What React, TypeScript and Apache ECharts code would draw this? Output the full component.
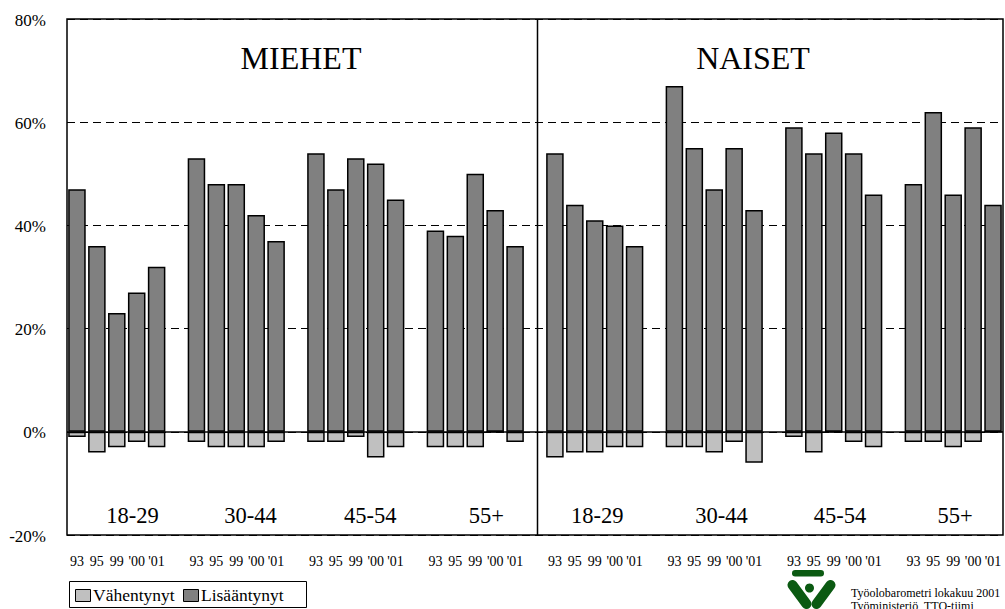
import React, { useEffect, useRef } from "react";
import * as echarts from "echarts";

// ---- data ----
const years = ["93", "95", "99", "'00", "'01"];
const ageGroups = ["18-29", "30-44", "45-54", "55+"];
const genders = ["MIEHET", "NAISET"];
const legendNames = ["Vähentynyt", "Lisääntynyt"];

const miehetLisaantynyt = [47, 36, 23, 27, 32, 53, 48, 48, 42, 37, 54, 47, 53, 52, 45, 39, 38, 50, 43, 36];
const miehetVahentynyt = [-1, -4, -3, -2, -3, -2, -3, -3, -3, -2, -2, -2, -1, -5, -3, -3, -3, -3, 0, -2];
const naisetLisaantynyt = [54, 44, 41, 40, 36, 67, 55, 47, 55, 43, 59, 54, 58, 54, 46, 48, 62, 46, 59, 44];
const naisetVahentynyt = [-5, -4, -4, -3, -3, -3, -3, -4, -2, -6, -1, -4, 0, -2, -3, -2, -2, -3, -2, 0];

const yTickValues = [-20, 0, 20, 40, 60, 80];
const footerLines = ["Työolobarometri lokakuu 2001", "Työministeriö, TTO-tiimi"];

// ---- build categories (groups separated by an empty slot) ----
const categories: string[] = [];
const incData: (number | string)[] = [];
const decData: (number | string)[] = [];
const allInc = [...miehetLisaantynyt, ...naisetLisaantynyt];
const allDec = [...miehetVahentynyt, ...naisetVahentynyt];
const groupCount = genders.length * ageGroups.length;
for (let g = 0; g < groupCount; g++) {
  for (let i = 0; i < years.length; i++) {
    categories.push(years[i]);
    incData.push(allInc[g * years.length + i]);
    decData.push(allDec[g * years.length + i]);
  }
  if (g < groupCount - 1) {
    categories.push("");
    incData.push("-");
    decData.push("-");
  }
}

const FONT = "Liberation Serif";
const groupLabelX = [132.5, 250.5, 370.3, 486.3, 597.3, 721.5, 840, 955];
const genderLabelX = [301, 753];
const GREEN = "#0b5a12";
const LIGHT = "#c0c0c0";
const DARK = "#808080";

function txt(text: string, x: number, y: number, size: number, align = "center") {
  return {
    type: "text",
    x,
    y,
    z: 20,
    style: { text, fontFamily: FONT, fontSize: size, fill: "#000", align, verticalAlign: "middle" },
  };
}

export default function App() {
  const ref = useRef<HTMLDivElement>(null);
  useEffect(() => {
    if (!ref.current) return;
    const chart = echarts.init(ref.current, undefined, { renderer: "svg" });

    chart.setOption({
      animation: false,
      backgroundColor: "#fff",
      grid: {
        left: 67,
        right: 2,
        top: 19,
        bottom: 74,
        show: true,
        borderColor: "#000",
        borderWidth: 1.5,
        backgroundColor: "transparent",
      },
      legend: { show: false, data: legendNames },
      xAxis: {
        type: "category",
        data: categories,
        boundaryGap: true,
        axisLine: { show: false },
        axisTick: { show: false },
        axisLabel: { show: false },
        splitLine: { show: false },
      },
      yAxis: {
        type: "value",
        min: yTickValues[0],
        max: yTickValues[yTickValues.length - 1],
        interval: yTickValues[1] - yTickValues[0],
        axisLine: { show: false },
        axisTick: { show: false },
        axisLabel: { show: false },
        splitLine: { show: true, lineStyle: { color: "#000", type: [8, 5], width: 1 } },
      },
      series: [
        {
          name: legendNames[0],
          type: "bar",
          data: decData,
          barCategoryGap: "12%",
          barGap: "-100%",
          itemStyle: { color: LIGHT, borderColor: "#000", borderWidth: 1.5 },
        },
        {
          name: legendNames[1],
          type: "bar",
          data: incData,
          barCategoryGap: "12%",
          barGap: "-100%",
          itemStyle: { color: DARK, borderColor: "#000", borderWidth: 1.5 },
          markLine: {
            silent: true,
            symbol: "none",
            label: { show: false },
            lineStyle: { color: "#000", type: "solid", width: 1.5 },
            data: [{ yAxis: 0 }],
          },
        },
      ],
    });

    const graphics: any[] = [];
    // y-axis tick labels, positioned through the value axis
    yTickValues.forEach((v) => {
      const py = chart.convertToPixel({ yAxisIndex: 0 }, v) as number;
      graphics.push(txt(`${v}%`, 46, py + 1, 17, "right"));
    });
    // x-axis category labels, positioned through the category axis
    categories.forEach((c, i) => {
      if (!c) return;
      const px = chart.convertToPixel({ xAxisIndex: 0 }, i) as number;
      graphics.push(txt(c, px, 561, 14));
    });
    genders.forEach((g, i) => graphics.push(txt(g, genderLabelX[i], 57.5, 32)));
    for (let g = 0; g < groupCount; g++) {
      graphics.push(txt(ageGroups[g % ageGroups.length], groupLabelX[g], 515, 22.5));
    }
    // divider between MIEHET and NAISET
    graphics.push({
      type: "line",
      shape: { x1: 537.5, y1: 19, x2: 537.5, y2: 535 },
      style: { stroke: "#000", lineWidth: 1.5 },
      z: 10,
    });
    // legend box
    graphics.push({
      type: "rect",
      shape: { x: 69.5, y: 581.5, width: 237, height: 26 },
      style: { fill: "#fff", stroke: "#000", lineWidth: 1 },
    });
    const legendIconX = [75, 183];
    const legendColors = [LIGHT, DARK];
    legendNames.forEach((n, i) => {
      graphics.push({
        type: "rect",
        shape: { x: legendIconX[i] + 0.5, y: 589.5, width: 15, height: 12 },
        style: { fill: legendColors[i], stroke: "#000", lineWidth: 1 },
        z: 5,
      });
      graphics.push(txt(n, legendIconX[i] + 18, 595, 17.5, "left"));
    });
    // logo
    graphics.push({
      type: "group",
      children: [
        { type: "rect", shape: { x: 792, y: 570, width: 32, height: 6.5, r: 3.2 }, style: { fill: GREEN } },
        {
          type: "line",
          shape: { x1: 792.5, y1: 585, x2: 806.5, y2: 604 },
          style: { stroke: GREEN, lineWidth: 10, lineCap: "round" },
        },
        {
          type: "line",
          shape: { x1: 830.5, y1: 585, x2: 816.5, y2: 604 },
          style: { stroke: GREEN, lineWidth: 10, lineCap: "round" },
        },
        { type: "circle", shape: { cx: 809.5, cy: 588, r: 4.5 }, style: { fill: GREEN } },
      ],
    });
    footerLines.forEach((t, i) => graphics.push(txt(t, 851, 593 + i * 12.5, 12, "left")));

    chart.setOption({ graphic: graphics });
    return () => chart.dispose();
  }, []);
  return <div ref={ref} style={{ width: 1005, height: 609, position: "absolute", left: 0, top: 0 }} />;
}
